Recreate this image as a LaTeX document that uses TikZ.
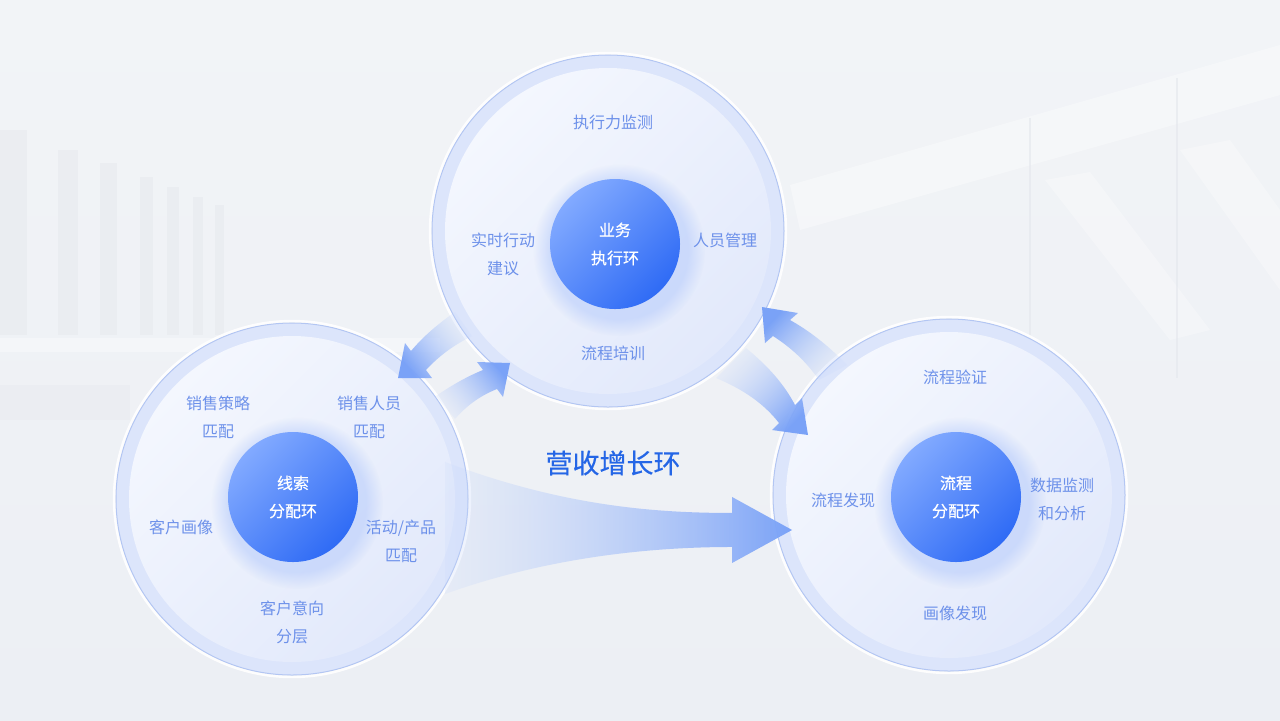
\documentclass[tikz,border=0pt]{standalone}
\usepackage{fontspec}
\newfontfamily\cjk{Noto Sans CJK SC}
\newfontfamily\cjkb[FakeBold=0.5]{Noto Sans CJK SC}
\newfontfamily\cjkt[FakeBold=0.3]{Noto Sans CJK SC}
\usetikzlibrary{fadings}

\definecolor{bgtop}{HTML}{F2F4F7}
\definecolor{bgbot}{HTML}{ECEFF4}
\definecolor{pillar}{HTML}{E4E7ED}
\definecolor{ringband}{HTML}{DCE5FB}
\definecolor{ringedge}{HTML}{B3C6F3}
\definecolor{disklight}{HTML}{F4F7FE}
\definecolor{diskdark}{HTML}{E2E9FB}
\definecolor{corelight}{HTML}{82AAFF}
\definecolor{coredark}{HTML}{2F6BF5}
\definecolor{glowblue}{HTML}{A9C2FA}
\definecolor{itemblue}{HTML}{6D91EA}
\definecolor{titleblue}{HTML}{2466E6}
\definecolor{arrowstrong}{HTML}{7AA2F7}
\definecolor{arrowlight}{HTML}{C9D9FB}

\tikzfading[name=tailfade, left color=transparent!80, middle color=transparent!20, right color=transparent!0]

\begin{document}
\begin{tikzpicture}[
		x=0.5pt, y=-0.5pt,
		ring/.style={circle, minimum size=176pt, inner sep=0pt, fill=ringband, draw=ringedge, line width=0.5pt},
		disk/.style={top color=disklight, bottom color=diskdark, shading angle=45},
		glow/.style={fill=glowblue, fill opacity=0.45, path fading=circle with fuzzy edge 20 percent},
		core/.style={circle, minimum size=65pt, inner sep=0pt, top color=corelight, bottom color=coredark, shading angle=45, text=white, align=center, font=\cjkb\fontsize{8pt}{14pt}\selectfont},
		item/.style={text=itemblue, align=center, font=\cjk\fontsize{8pt}{14pt}\selectfont},
		fatarrow/.style={top color=arrowstrong, bottom color=arrowlight, shading angle=#1-90, path fading=tailfade, fading angle=#1}
		]
		\useasboundingbox (0,0) rectangle (1280,720);
		
		% Fondo
		\shade[top color=bgtop, bottom color=bgbot] (0,0) rectangle (1280,720);
		\foreach \x/\w/\t in {0/27/130, 58/20/150, 100/17/163, 140/13/177, 167/12/187, 193/10/197, 215/9/205}
		\fill[pillar, opacity=0.45] (\x,\t) rectangle (\x+\w,335);
		\fill[white, opacity=0.35] (0,338) rectangle (440,352);
		\fill[pillar, opacity=0.3] (0,385) rectangle (130,420);
		\fill[white, opacity=0.35] (790,185) -- (1280,45) -- (1280,95) -- (800,230) -- cycle;
		\fill[white, opacity=0.3] (1045,180) -- (1090,172) -- (1210,330) -- (1170,340) -- cycle;
		\fill[white, opacity=0.3] (1180,150) -- (1230,140) -- (1280,210) -- (1280,290) -- cycle;
		\draw[pillar, line width=0.8pt, opacity=0.6] (1030,118) -- (1030,378);
		\draw[pillar, line width=0.8pt, opacity=0.6] (1177,78) -- (1177,378);
		
		% Anillos
		\node[ring] (ringtop) at (608,231) {};
		\node[ring] (ringleft) at (292,499) {};
		\node[ring] (ringright) at (949,495) {};
		\foreach \r in {ringtop, ringleft, ringright}{
			\draw[white, line width=1.2pt, opacity=0.9] (\r.center) circle[radius=89pt];
			\shade[disk] (\r.center) circle[radius=81.5pt];
		}
		\fill[glow] (619,250) circle[radius=43pt];
		\fill[glow] (297,503) circle[radius=43pt];
		\fill[glow] (960,503) circle[radius=43pt];
		
		% Centros
		\node[core] (coretop) at (615,244) {业务\\执行环};
		\node[core] (coreleft) at (293,497) {线索\\分配环};
		\node[core] (coreright) at (956,497) {流程\\分配环};
		
		% Textos
		\node[item] (top1) at (613,122) {执行力监测};
		\node[item] (top2) at (503,254) {实时行动\\建议};
		\node[item] (top3) at (725,240) {人员管理};
		\node[item] (top4) at (613,353) {流程培训};
		
		\node[item] (left1) at (218,417) {销售策略\\匹配};
		\node[item] (left2) at (369,417) {销售人员\\匹配};
		\node[item] (left3) at (181,527) {客户画像};
		\node[item] (left4) at (401,541) {活动/产品\\匹配};
		\node[item] (left5) at (292,622) {客户意向\\分层};
		
		\node[item] (right1) at (955,377) {流程验证};
		\node[item] (right2) at (843,500) {流程发现};
		\node[item] (right3) at (1062,499) {数据监测\\和分析};
		\node[item] (right4) at (955,613) {画像发现};
		
		\node[text=titleblue, font=\cjkt\fontsize{13.5pt}{16pt}\selectfont] (title) at (613,463) {营收增长环};
		
		% Flechas
		\shade[fatarrow=216] (455,312) .. controls (435,326) and (422,338) .. (411,351) -- (405,343) -- (398,378) -- (432,378) -- (426,370) .. controls (438,357) and (452,346) .. (472,336) -- cycle;
		\shade[fatarrow=34] (436,396) .. controls (452,385) and (468,376) .. (483,370) -- (477,362) -- (510,363) -- (503,397) -- (497,389) .. controls (482,395) and (468,404) .. (455,419) -- cycle;
		\shade[fatarrow=139] (847,365) .. controls (828,345) and (808,330) .. (790,320) -- (798,313) -- (762,307) -- (765,343) -- (773,336) .. controls (790,347) and (805,360) .. (819,380) -- cycle;
		\shade[fatarrow=-43] (746,348) .. controls (768,366) and (784,384) .. (795,405) -- (802,398) -- (808,435) -- (772,430) -- (779,423) .. controls (765,405) and (745,390) .. (716,378) -- cycle;
		\shade[fatarrow=0] (445,462) .. controls (560,505) and (650,513) .. (732,513) -- (732,497) -- (792,530) -- (732,563) -- (732,547) .. controls (640,547) and (540,560) .. (445,594) -- cycle;
		
	\end{tikzpicture}
\end{document}
